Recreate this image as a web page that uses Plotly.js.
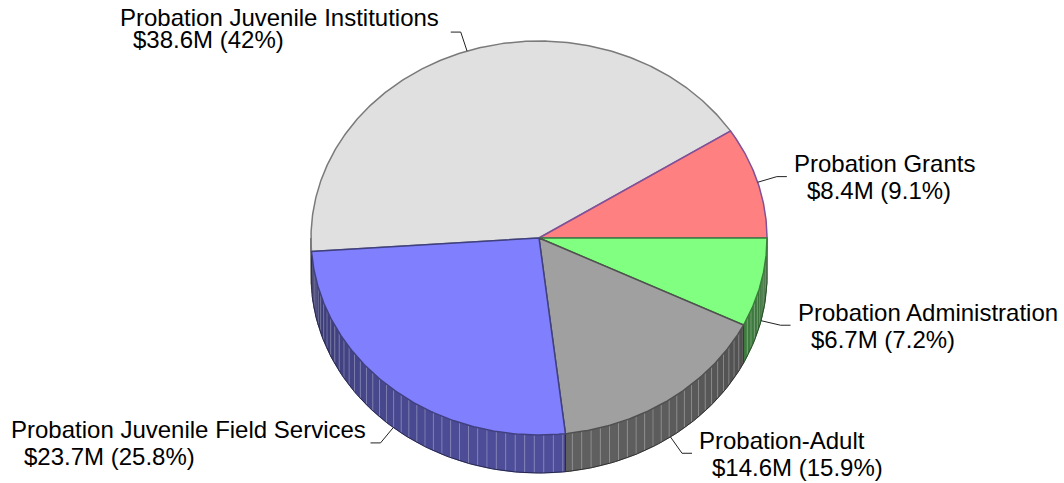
<!DOCTYPE html>
<html><head><meta charset="utf-8">
<script src="https://cdn.plot.ly/plotly-3.0.1.min.js"></script>
<style>html,body{margin:0;padding:0;background:#fff;} #chart{width:1064px;height:483px;}</style>
</head><body><div id="chart"></div>
<script>
// ---- data ----
const labels = ["Probation Grants", "Probation Juvenile Institutions", "Probation Juvenile Field Services", "Probation-Adult", "Probation Administration"];
const amounts = [8.4, 38.6, 23.7, 14.6, 6.7]; // $M
const amountText = ["$8.4M", "$38.6M", "$23.7M", "$14.6M", "$6.7M"];
const percentText = ["9.1%", "42%", "25.8%", "15.9%", "7.2%"];

// ---- style ----
const topColors = ["#FF8080", "#E0E0E0", "#8080FF", "#A0A0A0", "#80FF80"];
const edgeColors = ["#80509A", "#7A7A7A", "#404080", "#505050", "#3C7C3C"];
const drawOrder = [1, 0, 4, 3, 2];
const labelTweaks = [{}, {dx: 13, dy1: -15, dy2: 7}, {}, {}, {}];

const W = 1064, H = 483;
const CX = 539, CY = 238, RX = 228, RY = 197, DEPTH = 38;
const FONT = "Liberation Sans, Arial, sans-serif";
const FS = 24;

function pt(deg, dy) { const r = deg * Math.PI / 180; return [CX + RX * Math.cos(r), CY - RY * Math.sin(r) + (dy || 0)]; }
function rgb(h) { h = h.replace('#', ''); return [0, 2, 4].map(i => parseInt(h.substr(i, 2), 16)); }
function shade(h, f) { const c = rgb(h).map(v => Math.round(v * f)); return `rgb(${c[0]},${c[1]},${c[2]})`; }

const total = amounts.reduce((a, b) => a + b, 0);
const starts = [], ends = [];
let acc = 0;
amounts.forEach(v => { starts.push(acc / total * 360); acc += v; ends.push(acc / total * 360); });

const traces = [];
const STEP = 2.4;
const stripeX = [], stripeY = [];
// side walls
for (let i = 0; i < amounts.length; i++) {
  const a1 = Math.max(starts[i], 180), a2 = Math.min(ends[i], 360);
  if (a2 <= a1) continue;
  const bounds = [a1];
  for (let k = Math.ceil(a1 / STEP) * STEP; k < a2 - 1e-6; k += STEP) if (k > a1 + 1e-6) bounds.push(k);
  bounds.push(a2);
  for (let j = 0; j < bounds.length - 1; j++) {
    const t0 = bounds[j], t1 = bounds[j + 1], tm = (t0 + t1) / 2;
    const s = Math.max(-Math.sin(tm * Math.PI / 180), 0);
    const f = 0.3 + 0.3 * Math.sqrt(s);
    const col = shade(topColors[i], f);
    const p0 = pt(t0), p1 = pt(t1), q1 = pt(t1, DEPTH), q0 = pt(t0, DEPTH);
    traces.push({type: 'scatter', mode: 'lines', x: [p0[0], p1[0], q1[0], q0[0], p0[0]], y: [p0[1], p1[1], q1[1], q0[1], p0[1]],
      fill: 'toself', fillcolor: col, line: {color: col, width: 0.6}, hoverinfo: 'skip', showlegend: false});
    if (j > 0) { stripeX.push(p0[0], q0[0], null); stripeY.push(p0[1], q0[1], null); }
  }
}
traces.push({type: 'scatter', mode: 'lines', x: stripeX, y: stripeY, line: {color: 'rgba(255,255,255,0.28)', width: 1}, hoverinfo: 'skip', showlegend: false});
// side outlines
for (let i = 0; i < amounts.length; i++) {
  const a1 = Math.max(starts[i], 180), a2 = Math.min(ends[i], 360);
  if (a2 <= a1) continue;
  const xs = [], ys = [];
  let p = pt(a1); xs.push(p[0]); ys.push(p[1]);
  for (let t = a1; t < a2; t += 1) { p = pt(t, DEPTH); xs.push(p[0]); ys.push(p[1]); }
  p = pt(a2, DEPTH); xs.push(p[0]); ys.push(p[1]);
  p = pt(a2); xs.push(p[0]); ys.push(p[1]);
  traces.push({type: 'scatter', mode: 'lines', x: xs, y: ys, line: {color: shade(topColors[i], 0.3), width: 1}, hoverinfo: 'skip', showlegend: false});
}
// top faces
drawOrder.forEach(i => {
  const xs = [CX], ys = [CY];
  for (let t = starts[i]; t < ends[i]; t += 0.5) { const p = pt(t); xs.push(p[0]); ys.push(p[1]); }
  const pe = pt(ends[i]); xs.push(pe[0]); ys.push(pe[1]);
  xs.push(CX); ys.push(CY);
  traces.push({type: 'scatter', mode: 'lines', x: xs, y: ys, fill: 'toself', fillcolor: topColors[i],
    line: {color: edgeColors[i], width: 1.5}, hoverinfo: 'skip', showlegend: false});
});

// labels + leader lines
const cnv = document.createElement('canvas').getContext('2d');
cnv.font = FS + "px 'Liberation Sans'";
const annotations = [];
const leadX = [], leadY = [];
for (let i = 0; i < amounts.length; i++) {
  const m = (starts[i] + ends[i]) / 2, r = m * Math.PI / 180;
  const anchor = pt(m, Math.sin(r) < 0 ? DEPTH : 0);
  const elbow = [anchor[0] + 20 * Math.cos(r), anchor[1] - 20 * Math.sin(r)];
  const dir = Math.cos(r) >= 0 ? 1 : -1;
  const end = [elbow[0] + 10 * dir, elbow[1]];
  leadX.push(anchor[0], elbow[0], end[0], null); leadY.push(anchor[1], elbow[1], end[1], null);
  const tw = Object.assign({dx: 6, dy1: -13, dy2: 14, indent: 13}, labelTweaks[i]);
  const line1 = labels[i], line2 = amountText[i] + " (" + percentText[i] + ")";
  const w1 = cnv.measureText(line1).width;
  const left1 = dir > 0 ? end[0] + tw.dx : end[0] - tw.dx - w1;
  const base = {xref: 'x', yref: 'y', showarrow: false, xanchor: 'left', yanchor: 'middle', borderpad: 0,
    font: {family: FONT, size: FS, color: '#000'}};
  annotations.push(Object.assign({}, base, {x: left1, y: end[1] + tw.dy1, text: line1}));
  annotations.push(Object.assign({}, base, {x: left1 + tw.indent, y: end[1] + tw.dy2, text: line2}));
}
traces.push({type: 'scatter', mode: 'lines', x: leadX, y: leadY, line: {color: '#222', width: 1}, hoverinfo: 'skip', showlegend: false});

Plotly.newPlot('chart', traces, {
  width: W, height: H, margin: {l: 0, r: 0, t: 0, b: 0},
  paper_bgcolor: '#fff', plot_bgcolor: '#fff', showlegend: false,
  xaxis: {range: [0, W], visible: false, fixedrange: true},
  yaxis: {range: [H, 0], visible: false, fixedrange: true},
  annotations: annotations
}, {staticPlot: true, displayModeBar: false});
</script>
</body></html>
